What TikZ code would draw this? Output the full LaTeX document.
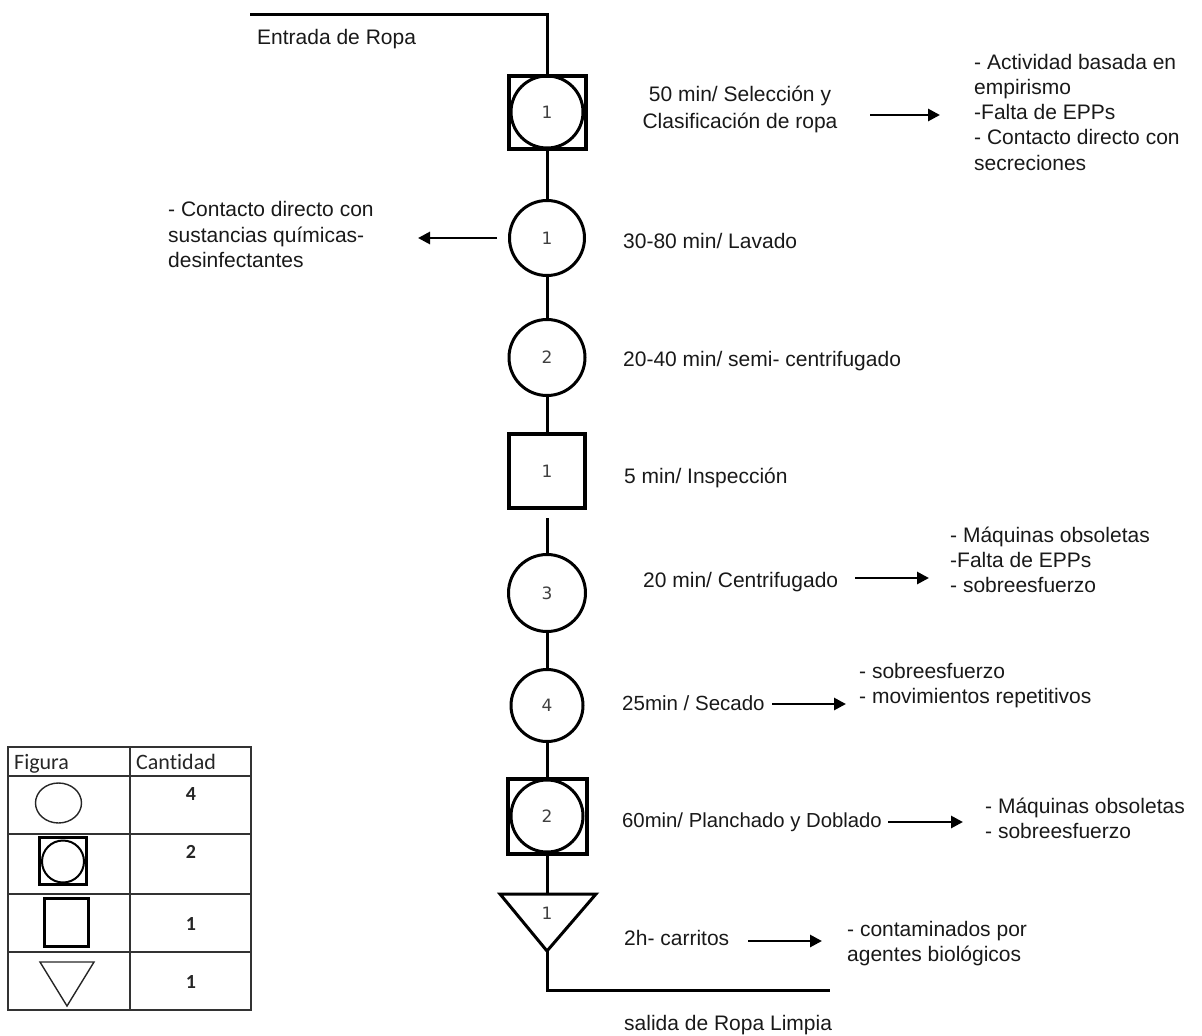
\documentclass[tikz,border=0pt]{standalone}
\usepackage{fontspec}
\setmainfont{Liberation Sans}
\newfontfamily\tabfont[Ligatures=NoCommon]{Carlito}
\newfontfamily\numfont{DejaVu Sans}
\usetikzlibrary{arrows.meta}
\begin{document}
\begin{tikzpicture}[x=1pt,y=-1pt,
  flow/.style={line width=3pt},
  opcirc/.style={circle, draw, line width=3pt, inner sep=0pt, font=\numfont\fontsize{17}{17}\selectfont, text=black!75},
  opbox/.style={rectangle, draw, line width=4pt, inner sep=0pt, font=\numfont\fontsize{17}{17}\selectfont, text=black!75},
  numlbl/.style={inner sep=0pt, font=\numfont\fontsize{17}{17}\selectfont, text=black!75},
  txt/.style={anchor=base west, inner sep=0pt, font=\fontsize{21}{25}\selectfont, text=black!90},
  ctxt/.style={anchor=base, inner sep=0pt, font=\fontsize{21}{25}\selectfont, text=black!90},
  arr/.style={line width=2.8pt, -{Triangle[length=12pt,width=12pt]}},
  tabline/.style={line width=1.3pt, black!80},
  tabtxt/.style={anchor=base west, inner sep=0pt, font=\tabfont\fontsize{22}{25}\selectfont, text=black!85},
  tabnum/.style={anchor=base, inner sep=0pt, font=\tabfont\bfseries\fontsize{20}{22}\selectfont, text=black!85}
]
\useasboundingbox (0,0) rectangle (1202,1036);

% ---------- main flow shapes ----------
\node[opbox, minimum width=77pt, minimum height=73pt] (sq1) at (547,112.5) {};
\node[opcirc, minimum size=72pt] (sq1c) at (547,112) {1};
\node[opcirc, minimum size=75pt] (c1) at (547,238) {1};
\node[opcirc, minimum size=76pt] (c2) at (547,357.5) {2};
\node[opbox, minimum width=76pt, minimum height=74pt] (insp) at (547,471) {1};
\node[opcirc, minimum size=77pt] (c3) at (547,593) {3};
\node[opcirc, minimum size=72pt] (c4) at (547,705.5) {4};
\node[opbox, minimum width=79pt, minimum height=75pt] (sq2) at (547,816.5) {};
\node[opcirc, minimum size=72pt] (sq2c) at (547,816) {2};

\coordinate (trileft) at (500,894);
\coordinate (triright) at (596,894);
\coordinate (tritop) at (547,894);
\coordinate (triapex) at (547,951);
\draw[line width=3pt, line join=miter] (trileft) -- (triright) -- (triapex) -- cycle;
\node[numlbl] (tril) at (547,913) {1};

\coordinate (instart) at (250,14);
\coordinate (incorner) at (547,14);
\coordinate (outcorner) at (547,990);
\coordinate (outend) at (830,990);

% ---------- connectors ----------
\draw[flow] (instart) -- (incorner) -- (sq1.north);
\draw[flow] (sq1.south) -- (c1.north);
\draw[flow] (c1.south) -- (c2.north);
\draw[flow] (c2.south) -- (insp.north);
\draw[flow] ([yshift=-8pt]insp.south) -- (c3.north);
\draw[flow] (c3.south) -- (c4.north);
\draw[flow] (c4.south) -- (sq2.north);
\draw[flow] (sq2.south) -- (tritop);
\draw[flow] (triapex) -- (outcorner) -- (outend);

% ---------- labels ----------
\node[txt] (tin) at (257,44) {Entrada de Ropa};
\node[txt] (tout) at (624,1030) {salida de Ropa Limpia};

\node[ctxt] (t1a) at (740,101) {50 min/ Selección y};
\node[ctxt] (t1b) at (740,128) {Clasificación de ropa};
\node[txt] (r1a) at (974,69) {- Actividad basada en};
\node[txt] (r1b) at (974,94) {empirismo};
\node[txt] (r1c) at (974,119) {-Falta de EPPs};
\node[txt] (r1d) at (974,144.5) {- Contacto directo con};
\node[txt] (r1e) at (974,170) {secreciones};
\coordinate (a1s) at (870,115);
\coordinate (a1e) at (940,115);
\draw[arr] (a1s) -- (a1e);

\node[txt] (t2) at (623,248) {30-80 min/ Lavado};
\node[txt] (l2a) at (168,216) {- Contacto directo con};
\node[txt] (l2b) at (168,242) {sustancias químicas-};
\node[txt] (l2c) at (168,267) {desinfectantes};
\coordinate (a2s) at (497,238);
\coordinate (a2e) at (418,238);
\draw[arr] (a2s) -- (a2e);

\node[txt] (t3) at (623,366) {20-40 min/ semi- centrifugado};
\node[txt] (t4) at (624,483) {5 min/ Inspección};

\node[txt] (t5) at (643,587) {20 min/ Centrifugado};
\node[txt] (r5a) at (950,542) {- Máquinas obsoletas};
\node[txt] (r5b) at (950,567) {-Falta de EPPs};
\node[txt] (r5c) at (950,592) {- sobreesfuerzo};
\coordinate (a5s) at (855,578);
\coordinate (a5e) at (929,578);
\draw[arr] (a5s) -- (a5e);

\node[txt, font=\fontsize{20.5}{25}\selectfont] (t6) at (622,710) {25min / Secado};
\node[txt] (r6a) at (859,678) {- sobreesfuerzo};
\node[txt] (r6b) at (859,703) {- movimientos repetitivos};
\coordinate (a6s) at (772,704);
\coordinate (a6e) at (846,704);
\draw[arr] (a6s) -- (a6e);

\node[txt, font=\fontsize{20.3}{25}\selectfont] (t7) at (622,827) {60min/ Planchado y Doblado};
\node[txt] (r7a) at (985,813) {- Máquinas obsoletas};
\node[txt] (r7b) at (985,838) {- sobreesfuerzo};
\coordinate (a7s) at (888,822);
\coordinate (a7e) at (963,822);
\draw[arr] (a7s) -- (a7e);

\node[txt] (t8) at (624,945) {2h- carritos};
\node[txt] (r8a) at (847,936) {- contaminados por};
\node[txt] (r8b) at (847,961) {agentes biológicos};
\coordinate (a8s) at (748,941);
\coordinate (a8e) at (822,941);
\draw[arr] (a8s) -- (a8e);

% ---------- legend table ----------
\draw[tabline] (8,747) rectangle (251,1010);
\draw[tabline] (130,747) -- (130,1010);
\draw[tabline] (8,776) -- (251,776);
\draw[tabline] (8,834) -- (251,834);
\draw[tabline] (8,894) -- (251,894);
\draw[tabline] (8,952) -- (251,952);
\node[tabtxt] (hfig) at (14,769) {Figura};
\node[tabtxt] (hcan) at (136,769) {Cantidad};

\draw[line width=1.4pt, black!85] (58.5,803) ellipse (23pt and 20pt);
\node[rectangle, draw, line width=3pt, minimum width=47pt, minimum height=47pt, inner sep=0pt] (lsq) at (63,861) {};
\node[circle, draw, line width=2pt, minimum size=42pt, inner sep=0pt] (lsqc) at (63,861.5) {};
\node[rectangle, draw, line width=3pt, minimum width=44pt, minimum height=48pt, inner sep=0pt] (lbox) at (66.5,922.5) {};
\draw[line width=1.4pt, black!85, line join=miter] (40,962) -- (94,962) -- (67,1006) -- cycle;

\node[tabnum] (n1) at (191,800) {4};
\node[tabnum] (n2) at (191,858) {2};
\node[tabnum] (n3) at (191,930) {1};
\node[tabnum] (n4) at (191,988) {1};
\end{tikzpicture}
\end{document}
